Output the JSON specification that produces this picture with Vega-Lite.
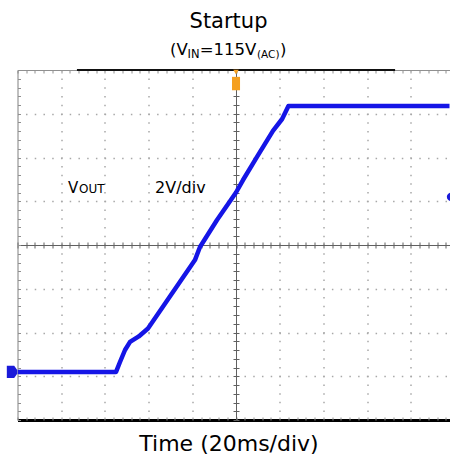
{
  "$schema": "https://vega.github.io/schema/vega-lite/v6.json",
  "width": 432,
  "height": 350,
  "autosize": {"type": "none"},
  "padding": {"left": 17.5, "top": 70, "right": 0, "bottom": 39},
  "background": "white",
  "config": {"view": {"stroke": null}},
  "resolve": {"axis": {"x": "independent", "y": "independent"}},
  "layer": [
    {
      "data": {"values": [
        {"time_ms": -100, "vout": 0},
        {"time_ms": -54.9, "vout": 0},
        {"time_ms": -53.1, "vout": 0.45},
        {"time_ms": -50.8, "vout": 1.0},
        {"time_ms": -48.5, "vout": 1.37},
        {"time_ms": -44.5, "vout": 1.62},
        {"time_ms": -40.3, "vout": 1.98},
        {"time_ms": -18.8, "vout": 5.11},
        {"time_ms": -16.5, "vout": 5.71},
        {"time_ms": -8.7, "vout": 6.94},
        {"time_ms": 0, "vout": 8.2},
        {"time_ms": 3.2, "vout": 8.77},
        {"time_ms": 9.6, "vout": 9.83},
        {"time_ms": 16.9, "vout": 11.02},
        {"time_ms": 21.1, "vout": 11.56},
        {"time_ms": 24.0, "vout": 12.15},
        {"time_ms": 100, "vout": 12.15}
      ]},
      "mark": {"type": "line", "color": "#1515e6", "strokeWidth": 4.5, "clip": true, "interpolate": "linear", "strokeJoin": "round"},
      "encoding": {
        "x": {"field": "time_ms", "type": "quantitative",
          "scale": {"domain": [-100, 97.7], "nice": false, "zero": false},
          "axis": {"orient": "bottom", "values": [-80, -60, -40, -20, 20, 40, 60, 80],
            "grid": true, "gridDash": [1.5, 7.24], "gridDashOffset": 0.75, "gridColor": "#a8a8a8", "gridWidth": 1.5,
            "domain": true, "domainColor": "#000000", "domainWidth": 3, "ticks": false, "labels": false,
            "title": "Time (20ms/div)", "titleFont": "DejaVu Sans", "titleFontSize": 22, "titleFontWeight": "normal",
            "titleColor": "#000000", "titleBaseline": "alphabetic", "titlePadding": 30.5, "titleX": 211}},
        "y": {"field": "vout", "type": "quantitative",
          "scale": {"domain": [-2.2, 13.8], "nice": false, "zero": false},
          "axis": {"orient": "left", "values": [-0.2, 1.8, 3.8, 7.8, 9.8, 11.8],
            "grid": true, "gridDash": [1.5, 7.24], "gridDashOffset": 0.75, "gridColor": "#a8a8a8", "gridWidth": 1.5,
            "domain": true, "domainColor": "#808080", "domainWidth": 1, "ticks": false, "labels": false, "title": null}}
      }
    },
    {
      "data": {"values": [{}]},
      "mark": {"type": "rule", "color": "#111111", "strokeWidth": 2},
      "encoding": {
        "x": {"datum": -72.8, "scale": {"domain": [-100, 97.7], "nice": false, "zero": false},
          "axis": {"orient": "top", "domain": true, "domainColor": "#909090", "domainWidth": 1, "ticks": false, "labels": false, "title": null, "grid": false}},
        "x2": {"datum": 72.8},
        "y": {"datum": 13.8, "scale": {"domain": [-2.2, 13.8], "nice": false, "zero": false},
          "axis": {"orient": "right", "offset": -432, "domain": false, "ticks": true, "tickSize": 3, "tickColor": "#909090", "tickWidth": 1,
            "labels": false, "title": null, "grid": false,
            "values": [-2.2,-1.8,-1.4,-1.0,-0.6,-0.2,0.2,0.6,1.0,1.4,1.8,2.2,2.6,3.0,3.4,3.8,4.2,4.6,5.0,5.4,5.8,6.2,6.6,7.0,7.4,7.8,8.2,8.6,9.0,9.4,9.8,10.2,10.6,11.0,11.4,11.8,12.2,12.6,13.0,13.4,13.8]}}
      }
    },
    {
      "data": {"values": [{}]},
      "mark": {"type": "point", "shape": "M-0.85,-1 L0.35,-1 L0.85,-0.3 L0.85,0.3 L0.35,1 L-0.85,1 Z", "size": 150, "filled": true, "color": "#1a1ad9", "opacity": 1},
      "encoding": {
        "x": {"datum": -102.5, "scale": {"domain": [-100, 97.7], "nice": false, "zero": false},
          "axis": {"orient": "bottom", "offset": -175, "domain": true, "domainColor": "#606060", "domainWidth": 1,
            "ticks": true, "tickSize": 3, "tickColor": "#606060", "tickWidth": 1, "labels": false, "title": null, "grid": false,
            "values": [-100,-96,-92,-88,-84,-80,-76,-72,-68,-64,-60,-56,-52,-48,-44,-40,-36,-32,-28,-24,-20,-16,-12,-8,-4,0,4,8,12,16,20,24,28,32,36,40,44,48,52,56,60,64,68,72,76,80,84,88,92,96]}},
        "y": {"datum": 0, "scale": {"domain": [-2.2, 13.8], "nice": false, "zero": false},
          "axis": {"orient": "left", "offset": -218.5, "domain": true, "domainColor": "#606060", "domainWidth": 1,
            "ticks": true, "tickSize": 3, "tickColor": "#606060", "tickWidth": 1, "labels": false, "title": null, "grid": false,
            "values": [-2.2,-1.8,-1.4,-1.0,-0.6,-0.2,0.2,0.6,1.0,1.4,1.8,2.2,2.6,3.0,3.4,3.8,4.2,4.6,5.0,5.4,5.8,6.2,6.6,7.0,7.4,7.8,8.2,8.6,9.0,9.4,9.8,10.2,10.6,11.0,11.4,11.8,12.2,12.6,13.0,13.4,13.8]}}
      }
    },
    {
      "data": {"values": [{}]},
      "mark": {"type": "point", "shape": "circle", "size": 70, "filled": true, "color": "#1a1ad9", "opacity": 1},
      "encoding": {
        "x": {"datum": 98.4, "scale": {"domain": [-100, 97.7], "nice": false, "zero": false},
          "axis": {"orient": "top", "offset": -175, "domain": false,
            "ticks": true, "tickSize": 3, "tickColor": "#606060", "tickWidth": 1, "labels": false, "title": null, "grid": false,
            "values": [-100,-96,-92,-88,-84,-80,-76,-72,-68,-64,-60,-56,-52,-48,-44,-40,-36,-32,-28,-24,-20,-16,-12,-8,-4,0,4,8,12,16,20,24,28,32,36,40,44,48,52,56,60,64,68,72,76,80,84,88,92,96]}},
        "y": {"datum": 8.0, "scale": {"domain": [-2.2, 13.8], "nice": false, "zero": false},
          "axis": {"orient": "right", "offset": -213.5, "domain": false,
            "ticks": true, "tickSize": 3, "tickColor": "#606060", "tickWidth": 1, "labels": false, "title": null, "grid": false,
            "values": [-2.2,-1.8,-1.4,-1.0,-0.6,-0.2,0.2,0.6,1.0,1.4,1.8,2.2,2.6,3.0,3.4,3.8,4.2,4.6,5.0,5.4,5.8,6.2,6.6,7.0,7.4,7.8,8.2,8.6,9.0,9.4,9.8,10.2,10.6,11.0,11.4,11.8,12.2,12.6,13.0,13.4,13.8]}}
      }
    },
    {
      "data": {"values": [{}]},
      "mark": {"type": "point", "shape": "triangle-down", "size": 30, "filled": true, "color": "#f5a020", "opacity": 1},
      "encoding": {
        "x": {"datum": 0, "scale": {"domain": [-100, 97.7], "nice": false, "zero": false},
          "axis": {"orient": "bottom", "offset": -350, "domain": false,
            "ticks": true, "tickSize": 3, "tickColor": "#909090", "tickWidth": 1, "labels": false, "title": null, "grid": false,
            "values": [-100,-96,-92,-88,-84,-80,-76,-72,-68,-64,-60,-56,-52,-48,-44,-40,-36,-32,-28,-24,-20,-16,-12,-8,-4,0,4,8,12,16,20,24,28,32,36,40,44,48,52,56,60,64,68,72,76,80,84,88,92,96]}},
        "y": {"datum": 13.7, "scale": {"domain": [-2.2, 13.8], "nice": false, "zero": false}, "axis": null}
      }
    },
    {
      "data": {"values": [{}]},
      "mark": {"type": "point", "shape": "M-0.6,-1 L0.6,-1 L0.6,1 L-0.6,1 Z", "size": 180, "filled": true, "color": "#f5a020", "opacity": 1},
      "encoding": {
        "x": {"datum": 0, "scale": {"domain": [-100, 97.7], "nice": false, "zero": false},
          "axis": {"orient": "top", "offset": -350, "domain": false,
            "ticks": true, "tickSize": 3, "tickColor": "#909090", "tickWidth": 1, "labels": false, "title": null, "grid": false,
            "values": [-100,-96,-92,-88,-84,-80,-76,-72,-68,-64,-60,-56,-52,-48,-44,-40,-36,-32,-28,-24,-20,-16,-12,-8,-4,0,4,8,12,16,20,24,28,32,36,40,44,48,52,56,60,64,68,72,76,80,84,88,92,96]}},
        "y": {"datum": 13.18, "scale": {"domain": [-2.2, 13.8], "nice": false, "zero": false}, "axis": null}
      }
    },
    {
      "data": {"values": [{}]},
      "mark": {"type": "text", "text": "Startup", "font": "DejaVu Sans", "fontSize": 21, "align": "center", "baseline": "alphabetic", "color": "#000000"},
      "encoding": {
        "x": {"datum": -3.43, "scale": {"domain": [-100, 97.7], "nice": false, "zero": false}, "axis": null},
        "y": {"datum": 15.72, "scale": {"domain": [-2.2, 13.8], "nice": false, "zero": false}, "axis": null}
      }
    },
    {
      "data": {"values": [{}]},
      "mark": {"type": "text", "text": "(V", "font": "DejaVu Sans", "fontSize": 16.5, "align": "left", "baseline": "alphabetic", "color": "#000000"},
      "encoding": {
        "x": {"datum": -30.2, "scale": {"domain": [-100, 97.7], "nice": false, "zero": false}, "axis": null},
        "y": {"datum": 14.49, "scale": {"domain": [-2.2, 13.8], "nice": false, "zero": false}, "axis": null}
      }
    },
    {
      "data": {"values": [{}]},
      "mark": {"type": "text", "text": "IN", "font": "DejaVu Sans", "fontSize": 11.5, "align": "left", "baseline": "alphabetic", "color": "#000000"},
      "encoding": {
        "x": {"datum": -22.2, "scale": {"domain": [-100, 97.7], "nice": false, "zero": false}, "axis": null},
        "y": {"datum": 14.37, "scale": {"domain": [-2.2, 13.8], "nice": false, "zero": false}, "axis": null}
      }
    },
    {
      "data": {"values": [{}]},
      "mark": {"type": "text", "text": "=115V", "font": "DejaVu Sans", "fontSize": 16.5, "align": "left", "baseline": "alphabetic", "color": "#000000"},
      "encoding": {
        "x": {"datum": -16.6, "scale": {"domain": [-100, 97.7], "nice": false, "zero": false}, "axis": null},
        "y": {"datum": 14.49, "scale": {"domain": [-2.2, 13.8], "nice": false, "zero": false}, "axis": null}
      }
    },
    {
      "data": {"values": [{}]},
      "mark": {"type": "text", "text": "(AC)", "font": "DejaVu Sans", "fontSize": 10.5, "align": "left", "baseline": "alphabetic", "color": "#000000"},
      "encoding": {
        "x": {"datum": 9.6, "scale": {"domain": [-100, 97.7], "nice": false, "zero": false}, "axis": null},
        "y": {"datum": 14.37, "scale": {"domain": [-2.2, 13.8], "nice": false, "zero": false}, "axis": null}
      }
    },
    {
      "data": {"values": [{}]},
      "mark": {"type": "text", "text": ")", "font": "DejaVu Sans", "fontSize": 16.5, "align": "left", "baseline": "alphabetic", "color": "#000000"},
      "encoding": {
        "x": {"datum": 20.1, "scale": {"domain": [-100, 97.7], "nice": false, "zero": false}, "axis": null},
        "y": {"datum": 14.49, "scale": {"domain": [-2.2, 13.8], "nice": false, "zero": false}, "axis": null}
      }
    },
    {
      "data": {"values": [{}]},
      "mark": {"type": "text", "text": "V", "font": "DejaVu Sans", "fontSize": 15, "align": "left", "baseline": "alphabetic", "color": "#000000"},
      "encoding": {
        "x": {"datum": -76.9, "scale": {"domain": [-100, 97.7], "nice": false, "zero": false}, "axis": null},
        "y": {"datum": 8.18, "scale": {"domain": [-2.2, 13.8], "nice": false, "zero": false}, "axis": null}
      }
    },
    {
      "data": {"values": [{}]},
      "mark": {"type": "text", "text": "OUT", "font": "DejaVu Sans", "fontSize": 12, "align": "left", "baseline": "alphabetic", "color": "#000000"},
      "encoding": {
        "x": {"datum": -71.85, "scale": {"domain": [-100, 97.7], "nice": false, "zero": false}, "axis": null},
        "y": {"datum": 8.18, "scale": {"domain": [-2.2, 13.8], "nice": false, "zero": false}, "axis": null}
      }
    },
    {
      "data": {"values": [{}]},
      "mark": {"type": "text", "text": "2V/div", "font": "DejaVu Sans", "fontSize": 16, "align": "left", "baseline": "alphabetic", "color": "#000000"},
      "encoding": {
        "x": {"datum": -37.07, "scale": {"domain": [-100, 97.7], "nice": false, "zero": false}, "axis": null},
        "y": {"datum": 8.18, "scale": {"domain": [-2.2, 13.8], "nice": false, "zero": false}, "axis": null}
      }
    }
  ]
}
